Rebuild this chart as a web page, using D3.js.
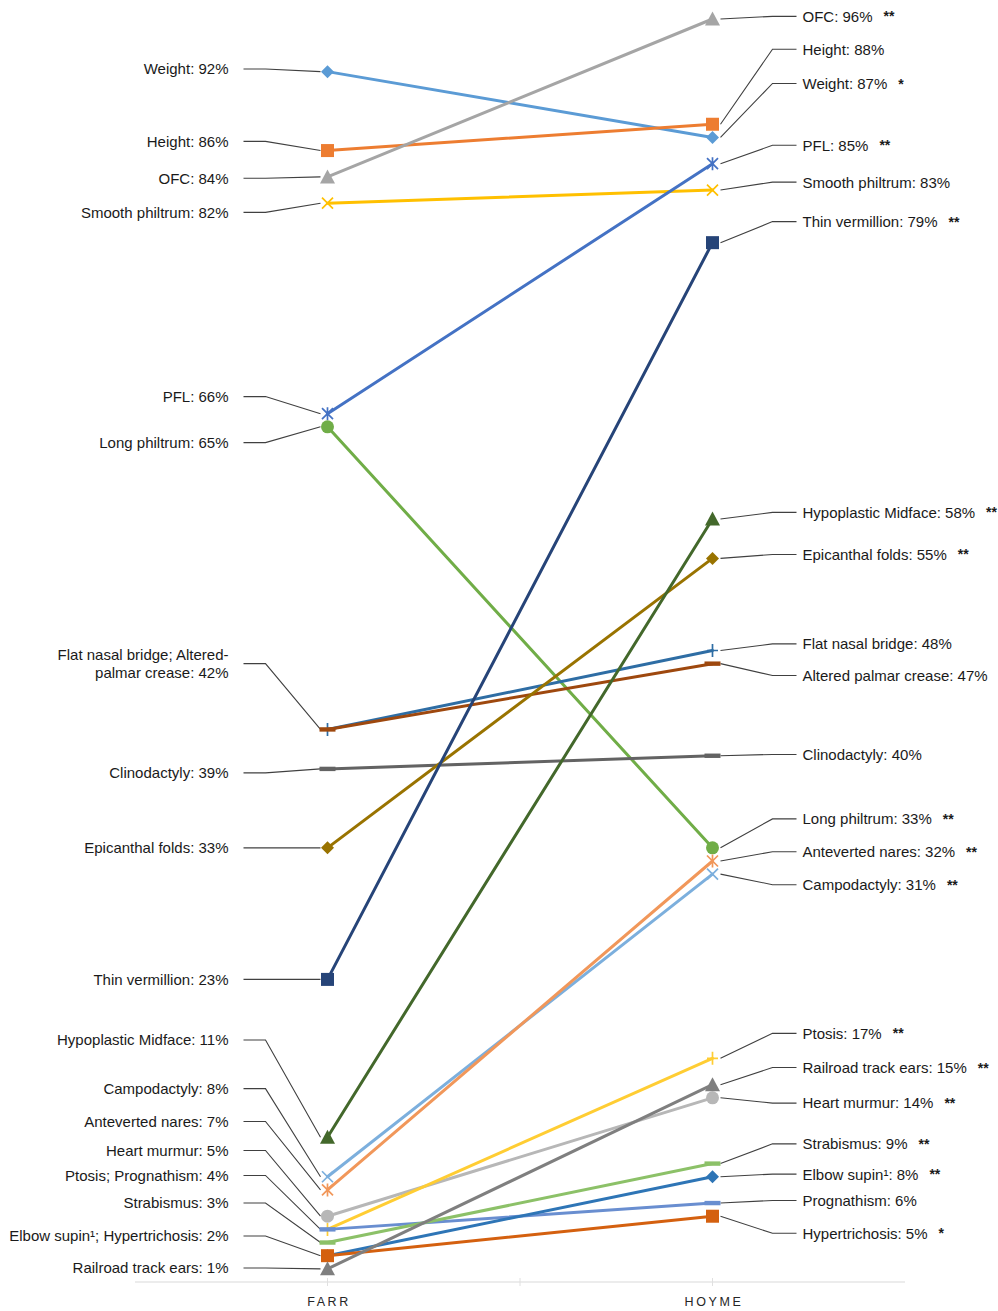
<!DOCTYPE html>
<html>
<head>
<meta charset="utf-8">
<script src="https://cdn.jsdelivr.net/npm/d3@7"></script>
<style>
  html, body { margin: 0; padding: 0; background: #fff; }
  svg { display: block; }
  text { font-family: "Liberation Sans", Arial, sans-serif; }
</style>
</head>
<body>
<svg id="chart" width="998" height="1311"></svg>
<script>
// ---------- DATA ----------
const periods = ["FARR", "HOYME"];
const features = [
  "Weight", "Height", "OFC", "Smooth philtrum", "PFL", "Long philtrum",
  "Flat nasal bridge", "Altered palmar crease", "Clinodactyly", "Epicanthal folds",
  "Thin vermillion", "Hypoplastic Midface", "Campodactyly", "Anteverted nares",
  "Heart murmur", "Ptosis", "Prognathism", "Strabismus", "Elbow supin\u00B9",
  "Hypertrichosis", "Railroad track ears"
];
const farrValues  = [92, 86, 84, 82, 66, 65, 42, 42, 39, 33, 23, 11, 8, 7, 5, 4, 4, 3, 2, 2, 1];
const hoymeValues = [87, 88, 96, 83, 85, 33, 48, 47, 40, 55, 79, 58, 31, 32, 14, 17, 6, 9, 8, 5, 15];
const significance = ["*", "", "**", "", "**", "**", "", "", "", "**", "**", "**", "**", "**", "**", "**", "", "**", "**", "*", "**"];

// FARR side labels (some features share one label)
const leftGroups = [[0], [1], [2], [3], [4], [5], [6, 7], [8], [9], [10], [11], [12], [13], [14], [15, 16], [17], [18, 19], [20]];
const leftGroupLines = [
  null, null, null, null, null, null,
  ["Flat nasal bridge; Altered-", "palmar crease: 42%"],
  null, null, null, null, null, null, null, null, null, null, null
];

// ---------- STYLE / LAYOUT ----------
const colors = ["#5B9BD5", "#ED7D31", "#A5A5A5", "#FFC000", "#4472C4", "#70AD47",
  "#2E6DA4", "#9E480E", "#636363", "#997300", "#264478", "#43682B",
  "#7CAFDD", "#F1975A", "#B7B7B7", "#FFCD33", "#698ED0", "#8CC168",
  "#2E75B6", "#D4600F", "#7F7F7F"];
const markerTypes = ["diamond", "square", "triangle", "x", "asterisk", "circle",
  "plus", "dash", "dash", "diamond", "square", "triangle",
  "x", "asterisk", "circle", "plus", "dash", "dash",
  "diamond", "square", "triangle"];
// label anchor positions expressed in value units (leader-line ends)
const leftLabelAt  = [92.2, 86.7, 83.9, 81.3, 67.3, 63.8, 47.0, 38.7, 33.0, 23.0, 18.4, 14.7, 12.2, 10.0, 8.1, 6.0, 3.5, 1.06];
const rightLabelAt = [91.1, 93.7, 96.2, 83.6, 86.4, 35.2, 48.5, 46.1, 40.1, 55.3, 80.6, 58.5, 30.2, 32.7, 13.6, 18.9, 6.2, 10.5, 8.2, 3.7, 16.3];

const svg = d3.select("#chart");
const x = d3.scalePoint().domain(periods).range([135, 905]).padding(0.5);
const y = d3.scaleLinear().domain([0, 96]).range([1282, 19]);

// ---------- AXIS ----------
const axisG = svg.append("g").attr("transform", `translate(0,${y(0)})`);
axisG.append("line").attr("x1", 135).attr("x2", 905).attr("stroke", "#d9d9d9").attr("stroke-width", 1);
[x("FARR"), (x("FARR") + x("HOYME")) / 2, x("HOYME")].forEach(px => {
  axisG.append("line").attr("x1", px).attr("x2", px).attr("y1", -4).attr("y2", 4).attr("stroke", "#e0e0e0");
});
periods.forEach(p => {
  axisG.append("text").attr("x", x(p) + 1.5).attr("y", 24)
    .attr("text-anchor", "middle").attr("font-size", 12.5).attr("letter-spacing", 2.6)
    .attr("fill", "#262626").text(p);
});

// ---------- LEADER LINES & LABELS ----------
const lead = svg.append("g").attr("fill", "none").attr("stroke", "#404040").attr("stroke-width", 1.1);
const labels = svg.append("g").attr("font-size", 15).attr("fill", "#1a1a1a");

const xl = x("FARR"), xr = x("HOYME");
leftGroups.forEach((grp, i) => {
  const ly = y(leftLabelAt[i]);
  const my = y(farrValues[grp[0]]);
  lead.append("path").attr("d", `M${xl - 84},${ly}H${xl - 62}L${xl - 7},${my}`);
  let lines = leftGroupLines[i];
  if (!lines) {
    lines = [grp.map(k => features[k]).join("; ") + ": " + farrValues[grp[0]] + "%"];
  }
  const t = labels.append("text").attr("text-anchor", "end");
  lines.forEach((ln, j) => {
    t.append("tspan").attr("x", xl - 99)
      .attr("y", ly + (j - (lines.length - 1) / 2) * 18)
      .attr("dy", "0.36em").text(ln);
  });
});

features.forEach((f, k) => {
  const ly = y(rightLabelAt[k]);
  const my = y(hoymeValues[k]);
  lead.append("path").attr("d", `M${xr + 8},${my}L${xr + 60},${ly}H${xr + 84}`);
  const t = labels.append("text").attr("x", xr + 90).attr("y", ly).attr("dy", "0.36em")
    .text(`${f}: ${hoymeValues[k]}%`);
  if (significance[k]) {
    const w = t.node().getComputedTextLength();
    labels.append("text").attr("x", xr + 90 + w + 11).attr("y", ly).attr("dy", "0.36em")
      .attr("font-size", 14).attr("font-weight", "bold").text(significance[k]);
  }
});

// ---------- SERIES ----------
const line = d3.line().x(d => x(d.p)).y(d => y(d.v));
function drawMarker(g, type, color) {
  const s = 6.5;
  switch (type) {
    case "square":
      g.append("rect").attr("x", -s).attr("y", -s).attr("width", 2 * s).attr("height", 2 * s).attr("fill", color); break;
    case "diamond":
      g.append("path").attr("d", `M0,${-s}L${s},0L0,${s}L${-s},0Z`).attr("fill", color); break;
    case "triangle":
      g.append("path").attr("d", `M0,${-s - 1}L${s + 1},${s}L${-s - 1},${s}Z`).attr("fill", color); break;
    case "circle":
      g.append("circle").attr("r", s).attr("fill", color); break;
    case "x":
      g.append("path").attr("d", `M-5.5,-5.5L5.5,5.5M-5.5,5.5L5.5,-5.5`).attr("stroke", color).attr("stroke-width", 1.7); break;
    case "asterisk":
      g.append("path").attr("d", `M-5.5,-5.5L5.5,5.5M-5.5,5.5L5.5,-5.5M0,-6.5V6.5`).attr("stroke", color).attr("stroke-width", 1.7); break;
    case "plus":
      g.append("path").attr("d", `M-5.5,0H5.5M0,-6.5V6.5`).attr("stroke", color).attr("stroke-width", 1.7); break;
    case "dash":
      g.append("rect").attr("x", -8).attr("y", -2.2).attr("width", 16).attr("height", 4.4).attr("fill", color); break;
  }
}
const seriesG = svg.append("g");
features.forEach((f, k) => {
  const pts = [{p: "FARR", v: farrValues[k]}, {p: "HOYME", v: hoymeValues[k]}];
  const g = seriesG.append("g");
  g.append("path").attr("d", line(pts)).attr("fill", "none")
    .attr("stroke", colors[k]).attr("stroke-width", 3).attr("stroke-linecap", "round");
  pts.forEach(d => {
    const m = g.append("g").attr("transform", `translate(${x(d.p)},${y(d.v)})`);
    drawMarker(m, markerTypes[k], colors[k]);
  });
});
</script>
</body>
</html>
